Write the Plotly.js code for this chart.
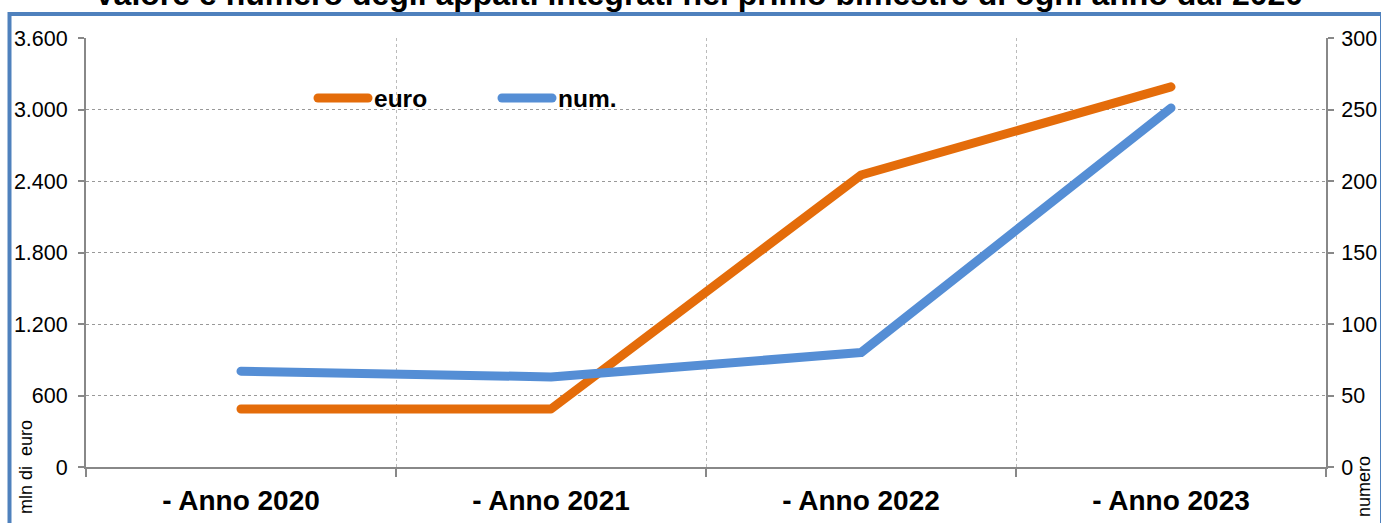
<!DOCTYPE html>
<html>
<head>
<meta charset="utf-8">
<script src="https://cdn.plot.ly/plotly-3.0.1.min.js"></script>
<style>
  html, body { margin: 0; padding: 0; background: #fff; }
  #chart { width: 1381px; height: 523px; }
  .js-line { stroke-linecap: round; stroke-linejoin: round; }
  .shapelayer path { stroke-linecap: round; }
</style>
</head>
<body>
<div id="chart"></div>
<script>
// ---- data ----
const categories = ["- Anno 2020", "- Anno 2021", "- Anno 2022", "- Anno 2023"];
const euroValues = [487, 487, 2450, 3190];   // mln di euro (left axis)
const numValues  = [67, 63, 80, 251];        // numero (right axis)
const seriesNames = ["euro", "num."];
const titleText = "Valore e numero degli appalti integrati nel primo bimestre di ogni anno dal 2020";
const leftTitle = "mln di  euro";
const rightTitle = "numero";

const orange = "#E46C0A";
const blue = "#558ED5";
const font = "Liberation Sans, Arial, sans-serif";

const traces = [
  { x: categories, y: euroValues, name: seriesNames[0], type: "scatter", mode: "lines",
    line: { color: orange, width: 9 }, yaxis: "y", showlegend: false },
  { x: categories, y: numValues, name: seriesNames[1], type: "scatter", mode: "lines",
    line: { color: blue, width: 9 }, yaxis: "y2", showlegend: false }
];

const W = 1381, H = 523, L = 86, R = 55, T = 38, B = 56;
const pw = W - L - R, ph = H - T - B;
const px = x => (x - L) / pw;
const py = y => (H - B - y) / ph;

const layout = {
  width: W, height: H,
  margin: { l: L, r: R, t: T, b: B },
  paper_bgcolor: "#fff", plot_bgcolor: "#fff",
  separators: ",.",
  font: { family: font, color: "#000" },
  xaxis: {
    type: "category", range: [-0.5, 3.5], tickson: "boundaries",
    ticks: "outside", ticklen: 8, tickwidth: 2, tickcolor: "#888",
    showline: true, linecolor: "#888", linewidth: 2,
    showgrid: true, gridcolor: "#bbb", griddash: "dot", gridwidth: 1,
    tickfont: { family: font, size: 28, weight: "bold", color: "#000" },
    ticklabelstandoff: 7,
    fixedrange: true
  },
  yaxis: {
    range: [0, 3600], dtick: 600, tickformat: ",d",
    ticks: "outside", ticklen: 6, tickwidth: 2, tickcolor: "#888",
    showline: true, linecolor: "#888", linewidth: 2,
    showgrid: true, gridcolor: "#999", griddash: "dot", gridwidth: 1,
    zeroline: false,
    tickfont: { family: font, size: 21.5, color: "#000" },
    ticklabelstandoff: 6
  },
  yaxis2: {
    range: [0, 300], dtick: 50, overlaying: "y", side: "right",
    ticks: "outside", ticklen: 6, tickwidth: 2, tickcolor: "#888",
    showline: true, linecolor: "#888", linewidth: 2,
    showgrid: false, zeroline: false,
    tickfont: { family: font, size: 21.5, color: "#000" },
    ticklabelstandoff: 3
  },
  shapes: [
    { type: "rect", xref: "paper", yref: "paper", x0: px(9.5), x1: px(1382), y0: py(560), y1: py(14),
      line: { color: "#4F81BD", width: 4 }, fillcolor: "rgba(0,0,0,0)", layer: "below" },
    { type: "line", xref: "paper", yref: "paper", x0: px(318), x1: px(368), y0: py(98), y1: py(98),
      line: { color: orange, width: 9 } },
    { type: "line", xref: "paper", yref: "paper", x0: px(502), x1: px(552), y0: py(98), y1: py(98),
      line: { color: blue, width: 9 } }
  ],
  annotations: [
    { text: "<b>" + titleText + "</b>", xref: "paper", yref: "paper", x: px(698), y: py(-6),
      xanchor: "center", yanchor: "middle", showarrow: false,
      font: { family: font, size: 32, color: "#000" } },
    { text: seriesNames[0], xref: "paper", yref: "paper", x: px(372), y: py(99), xanchor: "left", yanchor: "middle",
      showarrow: false, font: { family: font, size: 24.5, weight: "bold", color: "#000" } },
    { text: seriesNames[1], xref: "paper", yref: "paper", x: px(556), y: py(99), xanchor: "left", yanchor: "middle",
      showarrow: false, font: { family: font, size: 24.5, weight: "bold", color: "#000" } },
    { text: leftTitle, xref: "paper", yref: "paper", x: px(26), y: py(467), xanchor: "center", yanchor: "middle",
      textangle: -90, showarrow: false, font: { family: font, size: 18, color: "#000" } },
    { text: rightTitle, xref: "paper", yref: "paper", x: px(1364), y: py(487), xanchor: "center", yanchor: "middle",
      textangle: -90, showarrow: false, font: { family: font, size: 18, color: "#000" } }
  ]
};

Plotly.newPlot("chart", traces, layout, { displayModeBar: false, staticPlot: true });
</script>
</body>
</html>
